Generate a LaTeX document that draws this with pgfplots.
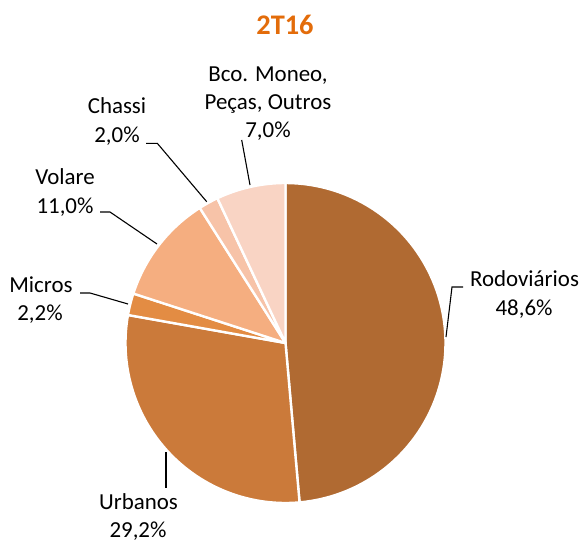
\documentclass[border=0pt]{standalone}
\usepackage{pgfplots}
\pgfplotsset{compat=1.18}
\usepackage{pgfplotstable}
\usepackage{fontspec}
\setmainfont{Carlito}
\definecolor{c0}{HTML}{B06A32}
\definecolor{c1}{HTML}{CB7A3A}
\definecolor{c2}{HTML}{E38C43}
\definecolor{c3}{HTML}{F5AE80}
\definecolor{c4}{HTML}{F7C3A8}
\definecolor{c5}{HTML}{F9D4C4}
\definecolor{titleorange}{HTML}{E36C0A}
\pgfplotstableread{
label value
Rodoviarios 48.6
Urbanos 29.2
Micros 2.2
Volare 11.0
Chassi 2.0
Outros 7.0
}\piedata
\pgfplotstablecreatecol[expr accum={\pgfmathaccuma + \thisrow{value}}{0}]{cum}\piedata
\begin{document}
\begin{tikzpicture}
\begin{axis}[
  scale only axis, width=584bp, height=543bp,
  xmin=0, xmax=584, ymin=0, ymax=543, y dir=reverse,
  hide axis, clip=false,
]
\pgfplotsinvokeforeach{0,...,5}{
  \pgfplotstablegetelem{#1}{cum}\of\piedata
  \let\cumval\pgfplotsretval
  \pgfplotstablegetelem{#1}{value}\of\piedata
  \let\vval\pgfplotsretval
  \pgfmathsetmacro\angA{90-3.6*\cumval}
  \pgfmathsetmacro\angB{90-3.6*(\cumval-\vval)}
  \addplot[fill=c#1, draw=white, line width=2.4pt, line join=round,
    domain=\angA:\angB, samples=80, variable=\t]
    ({285.5+160*cos(\t)}, {343-160*sin(\t)}) -- (axis cs:285.5,343) -- cycle;
}
% title
\node[anchor=base, font=\fontsize{28.5}{34}\selectfont\bfseries, text=titleorange, inner sep=0pt] at (axis cs:285,35) {2T16};
% labels
\tikzset{lab/.style={anchor=base, inner sep=0pt, font=\fontsize{23}{29}\selectfont}}
\node[lab] at (axis cs:268,82) {Bco. Moneo,};
\node[lab] at (axis cs:268,110) {Peças, Outros};
\node[lab] at (axis cs:268,137) {7,0\%};
\node[lab] at (axis cs:117,114) {Chassi};
\node[lab] at (axis cs:117,142) {2,0\%};
\node[lab] at (axis cs:65,184) {Volare};
\node[lab] at (axis cs:65,213) {11,0\%};
\node[lab] at (axis cs:41,292) {Micros};
\node[lab] at (axis cs:40,320) {2,2\%};
\node[lab] at (axis cs:524.5,286) {Rodoviários};
\node[lab] at (axis cs:524,315) {48,6\%};
\node[lab] at (axis cs:138.5,509.5) {Urbanos};
\node[lab] at (axis cs:138,537) {29,2\%};
% leader lines
\draw[black, line width=1.1pt] (axis cs:241.7,140) -- (axis cs:250,185);
\draw[black, line width=1.1pt] (axis cs:146,143.3) -- (axis cs:157.3,143.3) -- (axis cs:206.7,201.7);
\draw[black, line width=1.1pt] (axis cs:100,212) -- (axis cs:110,212) -- (axis cs:157,244);
\draw[black, line width=1.1pt] (axis cs:80,293) -- (axis cs:90,293) -- (axis cs:128,304);
\draw[black, line width=1.1pt] (axis cs:463,287) -- (axis cs:452,287) -- (axis cs:446,337);
\draw[black, line width=1.1pt] (axis cs:166,452) -- (axis cs:166,488);
\end{axis}
\pgfresetboundingbox
\path[use as bounding box] (0,0) rectangle (584bp,543bp);
\end{tikzpicture}
\end{document}
